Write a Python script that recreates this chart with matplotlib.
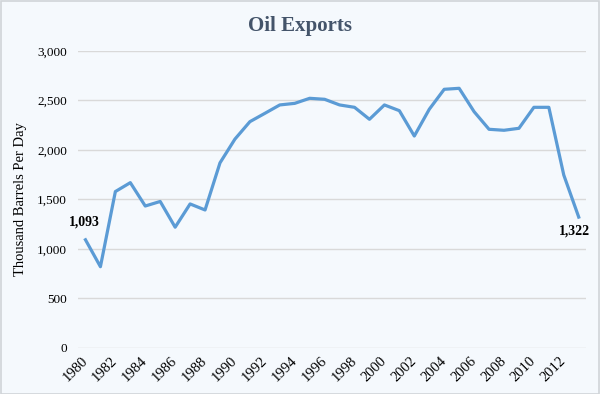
import matplotlib.pyplot as plt
import numpy as np

plt.rcParams['font.family'] = ['Liberation Serif', 'DejaVu Serif']

years = list(range(1980, 2014))
exports = [1093, 821, 1580, 1670, 1434, 1480, 1220, 1455, 1394, 1870,
           2110, 2286, 2370, 2455, 2471, 2522, 2512, 2455, 2431, 2310,
           2455, 2397, 2141, 2411, 2613, 2623, 2387, 2209, 2199, 2219,
           2431, 2431, 1747, 1322]
tick_years = years[::2]

bg = "#f5f9fd"
fig = plt.figure(figsize=(6, 3.94), dpi=100, facecolor=bg)
fig.patches.append(plt.Rectangle((0.001, 0.001), 0.998, 0.997, transform=fig.transFigure,
                                 fill=False, edgecolor="#d0d4d8", linewidth=1.2))
ax = fig.add_axes([0.13, 0.1168, 0.847, 0.7538], facecolor=bg)

x = np.arange(len(years))
ax.plot(x, exports, color="#5b9bd5", linewidth=2.3, solid_joinstyle="round")

ax.set_xlim(-0.5, len(years) - 0.5)
ax.set_ylim(0, 3000)
ax.set_yticks(range(0, 3001, 500))
ax.set_yticklabels(["{:,}".format(v) for v in range(0, 3001, 500)], fontsize=9.5)
ax.yaxis.grid(True, color="#d9d9d9", linewidth=1)
ax.set_axisbelow(True)
for s in ax.spines.values():
    s.set_visible(False)
ax.tick_params(length=0)
ax.tick_params(axis="y", pad=8)

ax.set_xticks(x[::2])
ax.set_xticklabels(tick_years, rotation=45, ha="right", va="center",
                   rotation_mode="anchor", fontsize=10.5)
ax.tick_params(axis="x", pad=8)

ax.set_ylabel("Thousand Barrels Per Day", fontsize=10.5, va="center")
ax.yaxis.set_label_coords(-0.114, 0.5)
fig.text(0.5, 0.935, "Oil Exports", fontsize=15, fontweight="bold",
         color="#44546a", ha="center", va="center")

ax.annotate("{:,}".format(exports[0]), (x[0], exports[0]), xytext=(-1, 8),
            textcoords="offset points", ha="center", va="bottom",
            fontsize=10, fontweight="bold")
ax.annotate("{:,}".format(exports[-1]), (x[-1], exports[-1]), xytext=(-3, -5),
            textcoords="offset points", ha="center", va="top",
            fontsize=10, fontweight="bold")

fig.savefig("out.png", dpi=100, facecolor=bg)
